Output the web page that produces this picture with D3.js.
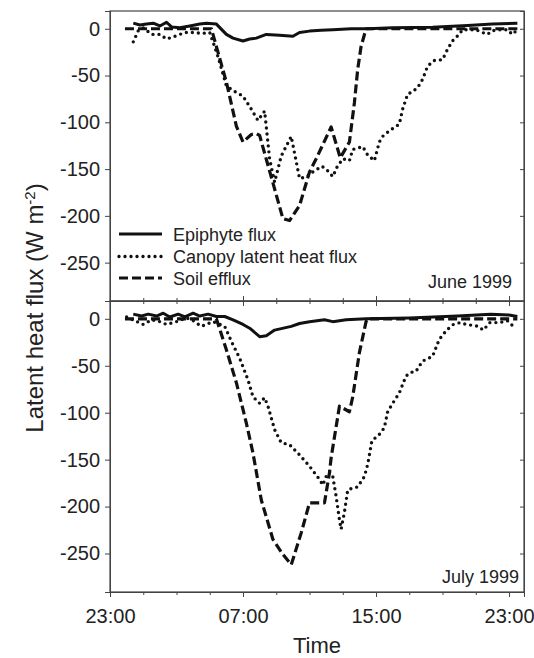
<!DOCTYPE html>
<html>
<head>
<meta charset="utf-8">
<script src="https://cdn.jsdelivr.net/npm/d3@7"></script>
<style>
  body { margin: 0; background: #fff; }
  text { font-family: "Liberation Sans", Arial, sans-serif; fill: #222; }
</style>
</head>
<body>
<svg id="chart"></svg>
<script>
// hours after 23:00 (0 = 23:00, 8 = 07:00 ...), value in W m-2

// June 1999
var juneEpiphyte = [[1.4,6],[1.8,4],[2.2,5],[2.6,6],[3.0,3],[3.4,7],[3.7,2],[4.2,1],[4.8,3],[5.4,5],[5.8,6],[6.4,5],
  [7.0,-6],[7.4,-10],[8.0,-13],[8.4,-11],[8.8,-10],[9.4,-6],[10.2,-7],[11.0,-8],[11.4,-4],[12.0,-2.5],[12.7,-1.5],
  [13.4,-1],[14.5,0],[15.5,0],[17.0,1],[19.4,1.5],[21.5,3.5],[23.0,5],[24.5,6]];
var juneCanopy = [[1.4,-14],[1.7,-2],[2.0,1],[2.5,-6],[3.0,-6],[3.4,-11],[3.9,-8],[4.5,-4],[5.1,-4],[5.5,-5],[6.0,-4],
  [6.5,-30],[7.0,-61],[7.4,-66],[8.0,-72],[8.5,-86],[8.9,-98],[9.1,-93],[9.3,-88],[9.6,-139],[9.9,-164],[10.3,-136],
  [10.9,-115],[11.4,-160],[11.85,-158],[12.2,-153],[12.75,-147],[13.05,-151],[13.4,-158],[13.65,-148],[14.0,-139],
  [14.4,-141],[14.6,-129],[15.2,-126],[15.5,-135],[15.9,-141],[16.2,-121],[16.4,-115],[16.8,-109],[17.4,-102],
  [17.6,-86],[17.9,-70],[18.2,-67],[18.5,-63],[18.8,-54],[19.1,-40],[19.5,-34],[20.0,-33],[20.3,-22],[20.6,-13],
  [21.0,-6],[21.2,-1],[21.7,-1],[22.0,-1],[22.4,-4],[22.7,-6],[23.0,-2],[23.5,-1],[23.9,-1],[24.2,-6],[24.5,-1]];
var juneSoil = [[0.9,0],[6.1,0],[7.0,-57],[7.6,-104],[8.0,-121],[8.5,-113],[8.8,-112],[9.0,-114],[10.4,-203],
  [10.8,-205],[11.4,-189],[12.0,-153],[12.4,-139],[13.3,-105],[13.85,-138],[14.4,-121],[14.7,-79],[14.9,-43],
  [15.1,-19],[15.4,0],[24.5,0]];

// July 1999
var julyEpiphyte = [[1.4,5],[1.9,3],[2.3,5],[2.8,3],[3.2,6],[3.6,2],[4.1,5],[4.5,2],[5.0,6],[5.4,3],[5.9,5],[6.4,2.5],
  [6.9,2.5],[7.4,-1],[8.0,-6],[8.4,-10],[9.0,-19],[9.4,-18],[9.9,-12],[10.9,-8],[11.4,-5],[12.0,-3],[12.9,-1],
  [13.4,-3],[14.2,-1],[15.4,0],[18.0,1],[20.9,3],[22.9,5],[24.0,4],[24.5,2.5]];
var julyCanopy = [[1.0,2],[1.5,-2],[2.0,-6],[2.5,-1],[3.0,-3],[3.4,-6],[4.0,-3],[4.6,1],[5.0,-2],[5.5,-8],[6.2,-3],
  [6.9,-8],[7.3,-24],[7.8,-42],[8.3,-65],[8.6,-83],[9.0,-90],[9.3,-84],[9.5,-93],[9.9,-118],[10.3,-132],[10.8,-134],
  [11.4,-145],[12.0,-157],[12.6,-171],[12.8,-177],[13.0,-168],[13.2,-163],[13.4,-168],[13.6,-189],[13.8,-214],
  [13.9,-224],[14.1,-206],[14.3,-182],[14.9,-179],[15.3,-168],[15.5,-155],[15.75,-130],[16.2,-123],[16.5,-116],
  [16.7,-99],[17.0,-90],[17.4,-79],[17.8,-61],[18.1,-57],[18.4,-56],[18.8,-45],[19.4,-40],[19.8,-22],[20.25,-12],
  [20.65,-6],[21.05,-4],[21.45,-6],[22.15,-8],[22.45,-12],[22.85,-4],[23.45,-4],[23.9,-2],[24.25,-8]];
var julySoil = [[0.9,0],[6.4,0],[7.0,-33],[7.6,-68],[8.2,-111],[8.6,-143],[9.1,-193],[9.8,-235],[10.4,-251],
  [10.9,-262],[11.5,-228],[12.0,-196],[12.9,-196],[13.2,-164],[13.3,-148],[13.8,-93],[14.4,-99],[14.6,-83],
  [15.0,-36],[15.4,-3],[15.5,0],[24.5,0]];

var majorHours = [0, 8, 16, 24];
var minorHours = [2, 4, 6, 10, 12, 14, 18, 20, 22];
var timeLabels = ['23:00', '07:00', '15:00', '23:00'];
var yTicks = [0, -50, -100, -150, -200, -250];

var seriesNames = ['Epiphyte flux', 'Canopy latent heat flux', 'Soil efflux'];
var panelNames = ['June 1999', 'July 1999'];

var width = 534, height = 658;
var left = 110, right = 524;
var panelTop = [11, 301], panelBottom = [301, 592];

var svg = d3.select('#chart')
  .attr('width', width)
  .attr('height', height);

var x = d3.scaleLinear().domain([0, 24.9]).range([left, right]);

var styles = [
  { dash: null, width: 3, cap: 'butt' },
  { dash: '0,6', width: 3.4, cap: 'round' },
  { dash: '9,4', width: 3.2, cap: 'butt' }
];

var panels = [
  { data: [juneEpiphyte, juneCanopy, juneSoil], name: panelNames[0] },
  { data: [julyEpiphyte, julyCanopy, julySoil], name: panelNames[1] }
];

panels.forEach(function(p, i) {
  var y = d3.scaleLinear().domain([19, -291]).range([panelTop[i], panelBottom[i]]);
  var g = svg.append('g');

  // frame
  g.append('rect')
    .attr('x', left).attr('y', panelTop[i])
    .attr('width', right - left).attr('height', panelBottom[i] - panelTop[i])
    .attr('fill', 'none').attr('stroke', '#444').attr('stroke-width', 1.2);

  // left axis (outward ticks + labels), plain hyphen minus like the original
  var la = g.append('g')
    .attr('transform', 'translate(' + left + ',0)')
    .call(d3.axisLeft(y).tickValues(yTicks).tickSize(5).tickPadding(5)
      .tickFormat(function(d) { return String(d); }));
  la.selectAll('text').style('font-size', '20px').attr('fill', '#222');

  // right axis (inward ticks)
  g.append('g')
    .attr('transform', 'translate(' + right + ',0)')
    .call(d3.axisLeft(y).tickValues(yTicks).tickSize(4).tickFormat(''));

  // lines
  var line = d3.line()
    .x(function(d) { return x(d[0]); })
    .y(function(d) { return y(d[1]); });

  p.data.forEach(function(series, k) {
    g.append('path')
      .datum(series)
      .attr('d', line)
      .attr('fill', 'none')
      .attr('stroke', '#111')
      .attr('stroke-width', styles[k].width)
      .attr('stroke-dasharray', styles[k].dash)
      .attr('stroke-linecap', styles[k].cap)
      .attr('stroke-linejoin', 'round');
  });

  // panel name
  g.append('text')
    .attr('x', i == 0 ? 512 : 519)
    .attr('y', i == 0 ? 288 : 583)
    .attr('text-anchor', 'end')
    .style('font-size', '18px')
    .text(p.name);
});

// x ticks on shared edge (top panel pointing up, bottom panel pointing down)
[[d3.axisTop, 301], [d3.axisBottom, 301]].forEach(function(a) {
  svg.append('g').attr('transform', 'translate(0,' + a[1] + ')')
    .call(a[0](x).tickValues(majorHours).tickSize(5).tickFormat(''));
  svg.append('g').attr('transform', 'translate(0,' + a[1] + ')')
    .call(a[0](x).tickValues(minorHours).tickSize(3).tickFormat(''));
});

// bottom axis with labels
var xa = svg.append('g')
  .attr('transform', 'translate(0,' + panelBottom[1] + ')')
  .call(d3.axisBottom(x).tickValues(majorHours).tickSize(5).tickPadding(12)
    .tickFormat(function(d, i) { return timeLabels[i]; }));
xa.selectAll('text').style('font-size', '20px').attr('fill', '#222');
svg.append('g')
  .attr('transform', 'translate(0,' + panelBottom[1] + ')')
  .call(d3.axisBottom(x).tickValues(minorHours).tickSize(3).tickFormat(''));

svg.selectAll('.domain').attr('stroke', '#444');
svg.selectAll('.tick line').attr('stroke', '#444');

// legend
var legend = svg.append('g');
seriesNames.forEach(function(name, k) {
  var ly = [234, 256.5, 278][k];
  legend.append('line')
    .attr('x1', 119).attr('x2', 162).attr('y1', ly).attr('y2', ly)
    .attr('stroke', '#111')
    .attr('stroke-width', styles[k].width)
    .attr('stroke-dasharray', styles[k].dash)
    .attr('stroke-linecap', styles[k].cap);
  legend.append('text')
    .attr('x', 173).attr('y', ly + 6.5)
    .style('font-size', '18px')
    .text(name);
});

// axis titles
svg.append('text')
  .attr('x', (left + right) / 2).attr('y', 653)
  .attr('text-anchor', 'middle')
  .style('font-size', '22px')
  .text('Time');

var yt = svg.append('text')
  .attr('transform', 'translate(43,308) rotate(-90)')
  .attr('text-anchor', 'middle')
  .style('font-size', '24px');
yt.append('tspan').text('Latent heat flux (W m');
yt.append('tspan').attr('baseline-shift', 'super').style('font-size', '15px').text('-2');
yt.append('tspan').text(')');
</script>
</body>
</html>
